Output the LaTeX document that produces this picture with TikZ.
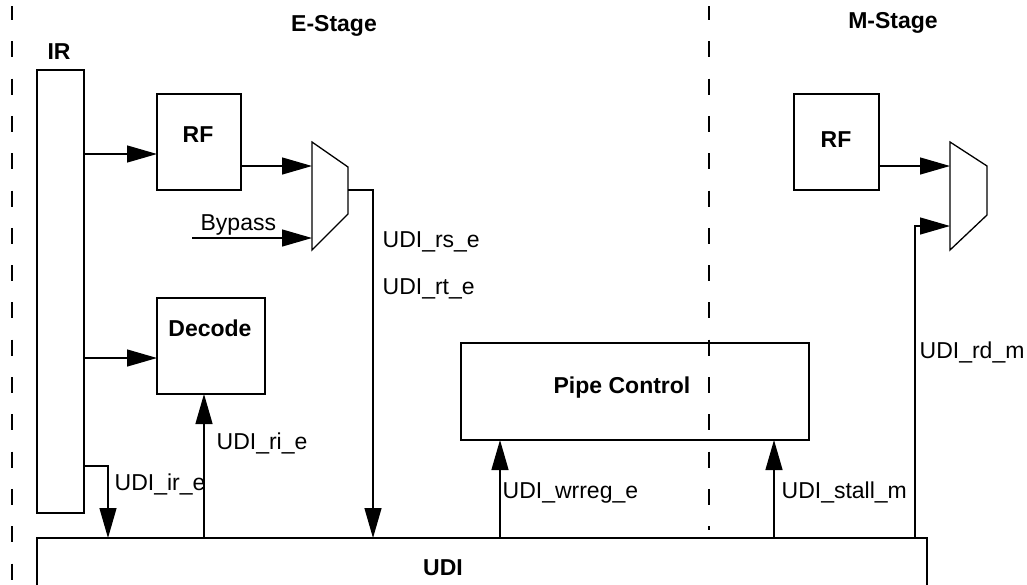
\documentclass[tikz,border=0pt]{standalone}
\usepackage{fontspec}
\setmainfont{Liberation Sans}
\usetikzlibrary{arrows.meta}
\begin{document}
\begin{tikzpicture}[x=1pt, y=-1pt, line width=1.3pt,
  blk/.style={draw, line width=1.3pt, inner sep=0pt, outer sep=0pt, anchor=north west},
  ttl/.style={font=\fontsize{23}{27}\selectfont\bfseries, anchor=base, inner sep=0pt},
  sig/.style={font=\fontsize{23}{27}\selectfont, anchor=base west, inner sep=0pt},
  wire/.style={line width=1.3pt},
  arr/.style={wire, -{Triangle[length=30pt, width=17pt]}},
  stagesep/.style={line width=1.3pt, dash pattern=on 16pt off 21.3pt, dash phase=2pt}]
\useasboundingbox (0,0) rectangle (1027,584);

% stage boundaries
\draw[stagesep] (12,6) -- (12,584);
\draw[stagesep] (709,6) -- (709,530);

% stage titles
\node[ttl] (estage) at (334,31) {E-Stage};
\node[ttl] (mstage) at (893,28) {M-Stage};

% blocks
\node[blk, minimum width=47pt, minimum height=443pt] (ir) at (37,70) {};
\node[ttl] (ir-t) at (59,59) {IR};
\node[blk, minimum width=84pt, minimum height=96pt] (rfe) at (157,94) {};
\node[ttl] (rfe-t) at (198,142) {RF};
\node[blk, minimum width=108pt, minimum height=96pt] (dec) at (157,298) {};
\node[ttl] (dec-t) at (210,336) {Decode};
\node[blk, minimum width=348pt, minimum height=97pt] (pipe) at (461,343) {};
\node[ttl] (pipe-t) at (622,393) {Pipe Control};
\node[blk, minimum width=85pt, minimum height=96pt] (rfm) at (794,94) {};
\node[ttl] (rfm-t) at (836,147) {RF};
\node[blk, minimum width=890pt, minimum height=70pt] (udi) at (37,538) {};
\node[ttl] (udi-t) at (443,575) {UDI};

% multiplexers
\coordinate (muxe-in1) at (312,166);
\coordinate (muxe-in2) at (312,238);
\coordinate (muxe-out) at (348,190);
\draw[wire] (312,142) -- (348,167) -- (348,214) -- (312,250) -- cycle;
\coordinate (muxm-in1) at (950,166);
\coordinate (muxm-in2) at (950,226);
\draw[wire] (950,142) -- (987,166) -- (987,215) -- (950,250) -- cycle;

% E-stage connections
\draw[arr] (ir.east |- 0,154) -- (rfe.west |- 0,154);
\draw[arr] (rfe.east |- muxe-in1) -- (muxe-in1);
\coordinate (byp) at (192,238);
\draw[arr] (byp) -- (muxe-in2);
\node[sig] (byp-t) at (200,230) {Bypass};
\draw[arr] (muxe-out) -- (373,190) -- (udi.north -| 373,0);
\node[sig] (rs-t) at (382,247) {UDI\_rs\_e};
\node[sig] (rt-t) at (382,294) {UDI\_rt\_e};
\draw[arr] (ir.east |- 0,358) -- (dec.west |- 0,358);
\draw[arr] (ir.east |- 0,466) -- (108,466) -- (udi.north -| 108,0);
\node[sig] (ir-s) at (114,490) {UDI\_ir\_e};
\draw[arr] (udi.north -| 204,0) -- (dec.south -| 204,0);
\node[sig] (ri-s) at (216,449) {UDI\_ri\_e};
\draw[arr] (udi.north -| 500,0) -- (pipe.south -| 500,0);
\node[sig] (wr-s) at (502,498) {UDI\_wrreg\_e};

% M-stage connections
\draw[arr] (udi.north -| 774,0) -- (pipe.south -| 774,0);
\node[sig] (st-s) at (781,498) {UDI\_stall\_m};
\draw[arr] (rfm.east |- muxm-in1) -- (muxm-in1);
\draw[arr] (udi.north -| 915,0) -- (915,226) -- (muxm-in2);
\node[sig] (rd-s) at (919,358) {UDI\_rd\_m};
\end{tikzpicture}
\end{document}
